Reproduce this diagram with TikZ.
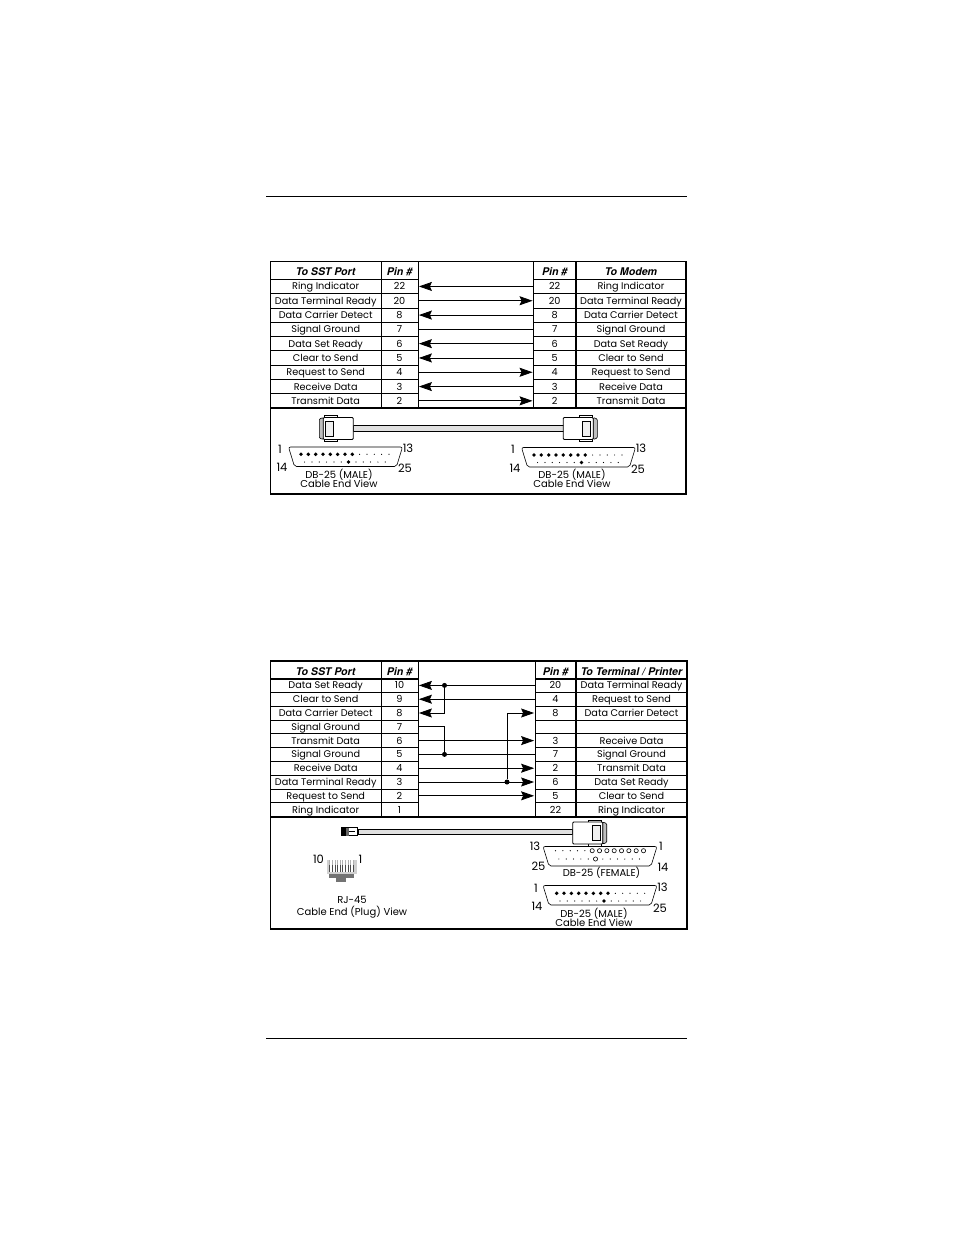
\documentclass[tikz,border=0pt]{standalone}
\usepackage{fontspec}
\setmainfont{Poppins}
\newfontfamily\headfont{TeX Gyre Heros}
\usetikzlibrary{arrows.meta}
\tikzset{
  cell/.style={draw,line width=.8pt,inner sep=0pt,text height=7pt,text depth=0pt,font=\fontsize{9.7}{10}\selectfont},
  headcell/.style={cell,text height=10pt,font=\headfont\fontsize{10.6}{10}\selectfont\bfseries\itshape},
  label/.style={inner sep=0pt,align=center,font=\fontsize{10}{9.5}\selectfont},
  numlabel/.style={inner sep=0pt,font=\fontsize{11.5}{12}\selectfont},
  wire/.style={line width=.8pt},
  sig/.style={wire,-{Stealth[length=13pt,width=9pt,inset=2pt]},shorten >=.5pt},
  dot/.style={circle,fill=black,inner sep=0pt,minimum size=5pt},
  pinfill/.style={circle,fill=black,inner sep=0pt,minimum size=3.8pt},
  pinsmall/.style={circle,fill=black,inner sep=0pt,minimum size=1.2pt},
  pinopen/.style={circle,draw,fill=white,line width=.6pt,inner sep=0pt,minimum size=4.2pt},
  shell/.style={draw,line width=.6pt,rounded corners=2pt,fill=white}
}
% shell of a DB-25, x0 y0 = upper left corner
\newcommand{\dbshell}[2]{
  \draw[shell] (#1,#2) -- (#1+114,#2) -- (#1+108,#2+19.5) -- (#1+6,#2+19.5) -- cycle;
}
% cable plug, #1 = left edge, #2 = top edge, #3 = 1 or -1 for the side of the strip
\newcommand{\plugbody}[3]{
  \begin{scope}[shift={(#1,#2)},xscale=#3]
    \draw[line width=.6pt,fill=black!25,rounded corners=1pt] (0,4) -- (4,2.5) -- (4,24.5) -- (0,23) -- cycle;
    \draw[line width=.6pt,fill=white] (5,0.5) -- (18,0.5) -- (18,3) -- (5,3) -- cycle;
    \draw[line width=.6pt,fill=white] (5,24) -- (18,24) -- (18,26.5) -- (5,26.5) -- cycle;
    \draw[line width=.8pt,fill=white,rounded corners=1pt] (4,2.5) -- (34,2.5) -- (34,24.5) -- (4,24.5) -- cycle;
    \draw[line width=.8pt,fill=black!6] (6.5,6) rectangle (14.5,21);
  \end{scope}
}
\begin{document}
\begin{tikzpicture}[x=1pt,y=-1pt]
  \useasboundingbox (0,0) rectangle (954,1235);
  \draw[line width=1pt] (266,196) -- (687,196);
  \draw[line width=1.5pt] (266,1038.5) -- (687,1038.5);

  % upper table
  \draw[line width=1.3pt] (270.5,261.5) rectangle (686,494);
  \node[headcell,minimum width=110.5pt,minimum height=18pt] (ah1) at (325.7,270.3) {To SST Port};
  \node[headcell,minimum width=37pt,minimum height=18pt] (ah2) at (399.5,270.3) {Pin \#};
  \node[headcell,minimum width=42.5pt,minimum height=18pt] (ah3) at (554.7,270.3) {Pin \#};
  \node[headcell,minimum width=110pt,minimum height=18pt] (ah4) at (631,270.3) {To Modem};
  \foreach \i/\pin/\name in {1/22/Ring Indicator,2/20/Data Terminal Ready,3/8/Data Carrier Detect,
      4/7/Signal Ground,5/6/Data Set Ready,6/5/Clear to Send,7/4/Request to Send,
      8/3/Receive Data,9/2/Transmit Data}{
    \pgfmathsetmacro\rowy{279.3+14.3*(\i-.5)}
    \node[cell,minimum width=110.5pt,minimum height=14.3pt] (an\i) at (325.7,\rowy) {\name};
    \node[cell,minimum width=37pt,minimum height=14.3pt] (ap\i) at (399.5,\rowy) {\pin};
    \node[cell,minimum width=42.5pt,minimum height=14.3pt] (aq\i) at (554.7,\rowy) {\pin};
    \node[cell,minimum width=110pt,minimum height=14.3pt] (am\i) at (631,\rowy) {\name};
  }
  \draw[line width=1.3pt] (270.5,408) -- (686,408);
  \draw[line width=1.3pt] (576,261.5) -- (576,408);
  \foreach \i in {1,3,5,6,8}{
    \draw[sig] (aq\i.west) -- (ap\i.east);
  }
  \foreach \i in {2,7,9}{
    \draw[sig] (ap\i.east) -- (aq\i.west);
  }
  \draw[wire] (ap4.east) -- (aq4.west);

  \draw[line width=.8pt,fill=black!12] (353,425) rectangle (564,431);
  \plugbody{319.3}{415}{1}
  \plugbody{597.3}{415}{-1}

  \dbshell{288.5}{447}
  \foreach \k in {0,...,12}{
    \ifnum\k<8 \node[pinfill] (lt\k) at (301+7.33*\k,454.3) {}; \else \node[pinsmall] (lt\k) at (301+7.33*\k,454.3) {}; \fi
  }
  \foreach \k in {0,...,11}{
    \ifnum\k=6 \node[pinfill] (lb\k) at (304.6+7.33*\k,462) {}; \else \node[pinsmall] (lb\k) at (304.6+7.33*\k,462) {}; \fi
  }
  \node[numlabel] (l1) at (280,449) {1};
  \node[numlabel] (l13) at (408,448) {13};
  \node[numlabel] (l14) at (282,467) {14};
  \node[numlabel] (l25) at (405,468) {25};
  \node[label] (lcap) at (339,478.5) {DB-25 (MALE)\\Cable End View};

  \dbshell{521.5}{447.5}
  \foreach \k in {0,...,12}{
    \ifnum\k<8 \node[pinfill] (rt\k) at (534+7.33*\k,455) {}; \else \node[pinsmall] (rt\k) at (534+7.33*\k,455) {}; \fi
  }
  \foreach \k in {0,...,11}{
    \ifnum\k=6 \node[pinfill] (rb\k) at (537.6+7.33*\k,462.5) {}; \else \node[pinsmall] (rb\k) at (537.6+7.33*\k,462.5) {}; \fi
  }
  \node[numlabel] (r1) at (513,449) {1};
  \node[numlabel] (r13) at (641,448.5) {13};
  \node[numlabel] (r14) at (515,468) {14};
  \node[numlabel] (r25) at (638,469) {25};
  \node[label] (rcap) at (572,478.5) {DB-25 (MALE)\\Cable End View};

  % lower table
  \draw[line width=1.3pt] (270.5,661) rectangle (687,929);
  \node[headcell,minimum width=110.5pt,minimum height=18pt] (bh1) at (325.7,670) {To SST Port};
  \node[headcell,minimum width=37pt,minimum height=18pt] (bh2) at (399.5,670) {Pin \#};
  \node[headcell,minimum width=41pt,minimum height=18pt] (bh3) at (555.5,670) {Pin \#};
  \node[headcell,minimum width=111pt,minimum height=18pt] (bh4) at (631.5,670) {To Terminal / Printer};
  \foreach \i/\pin/\name/\qin/\mate in {1/10/Data Set Ready/20/Data Terminal Ready,
      2/9/Clear to Send/4/Request to Send,3/8/Data Carrier Detect/8/Data Carrier Detect,
      4/7/Signal Ground//,5/6/Transmit Data/3/Receive Data,6/5/Signal Ground/7/Signal Ground,
      7/4/Receive Data/2/Transmit Data,8/3/Data Terminal Ready/6/Data Set Ready,
      9/2/Request to Send/5/Clear to Send,10/1/Ring Indicator/22/Ring Indicator}{
    \pgfmathsetmacro\rowy{678.5+13.8*(\i-.5)}
    \node[cell,minimum width=110.5pt,minimum height=13.8pt] (bn\i) at (325.7,\rowy) {\name};
    \node[cell,minimum width=37pt,minimum height=13.8pt] (bp\i) at (399.5,\rowy) {\pin};
    \node[cell,minimum width=41pt,minimum height=13.8pt] (bq\i) at (555.5,\rowy) {\qin};
    \node[cell,minimum width=111pt,minimum height=13.8pt] (bm\i) at (631.5,\rowy) {\mate};
  }
  \draw[line width=1.3pt] (270.5,817) -- (687,817);
  \draw[line width=1.3pt] (576,661) -- (576,817);

  \coordinate (xa) at (444.5,0);
  \coordinate (xb) at (507,0);
  \node[dot] (j1) at (xa |- bp1.east) {};
  \node[dot] (j2) at (xa |- bp6.east) {};
  \node[dot] (j3) at (xb |- bp8.east) {};
  \coordinate (k3) at (xa |- bp3.east);
  \coordinate (k4) at (xa |- bp4.east);
  \coordinate (k5) at (xb |- bq3.west);
  \draw[sig] (bq1.west) -- (bp1.east);
  \draw[sig] (bq2.west) -- (bp2.east);
  \draw[sig] (k3) -- (bp3.east);
  \draw[wire] (j1) -- (k3);
  \draw[wire] (bp4.east) -- (k4) -- (j2);
  \draw[sig] (bp5.east) -- (bq5.west);
  \draw[wire] (bp6.east) -- (bq6.west);
  \draw[sig] (bp7.east) -- (bq7.west);
  \draw[sig] (bp8.east) -- (bq8.west);
  \draw[sig] (bp9.east) -- (bq9.west);
  \draw[wire] (j3) -- (k5);
  \draw[sig] (k5) -- (bq3.west);

  \draw[line width=.8pt,fill=black!12] (358,829.3) rectangle (572,834);
  \draw[line width=.8pt,fill=white] (341.5,827.5) rectangle (357.5,835.5);
  \fill[black] (341.5,827.5) rectangle (346,835.5);
  \fill[black!60] (346,827.5) rectangle (348.5,835.5);
  \draw[line width=.5pt] (348.5,831.5) -- (355,831.5);
  \plugbody{606.7}{819.5}{-1}

  % RJ-45 plug
  \foreach \k in {0,...,9}{
    \draw[black!30,line width=.8pt] (329.7+2.6*\k,860) -- (329.7+2.6*\k,865);
    \draw[black!70,line width=.7pt] (329.7+2.6*\k,865) -- (329.7+2.6*\k,871.5);
  }
  \fill[black!18] (327,860) rectangle (329,874);
  \fill[black!18] (354,860) rectangle (356.5,874);
  \fill[black!18] (327,871.5) rectangle (356.5,874);
  \fill[black!55] (329,874) rectangle (353.5,877.5);
  \fill[black!55] (336,877.5) rectangle (346,881.7);
  \node[numlabel] (pl10) at (318.5,859) {10};
  \node[numlabel] (pl1) at (360.5,859.5) {1};
  \node[label] (plcap) at (352,907) {RJ-45\\[3pt]Cable End (Plug) View};

  \dbshell{543}{846.5}
  \foreach \k in {0,...,12}{
    \ifnum\k<8 \node[pinopen] (ft\k) at (643.5-7.33*\k,850.7) {}; \else \node[pinsmall] (ft\k) at (643.5-7.33*\k,850.7) {}; \fi
  }
  \foreach \k in {0,...,11}{
    \ifnum\k=6 \node[pinopen] (fb\k) at (639.5-7.33*\k,859) {}; \else \node[pinsmall] (fb\k) at (639.5-7.33*\k,859) {}; \fi
  }
  \node[numlabel] (f13) at (535,846.5) {13};
  \node[numlabel] (f1) at (661,846.5) {1};
  \node[numlabel] (f25) at (538.5,866.5) {25};
  \node[numlabel] (f14) at (663,867.5) {14};
  \node[label] (fcap) at (601.5,872.5) {DB-25 (FEMALE)};

  \dbshell{543}{885.5}
  \foreach \k in {0,...,12}{
    \ifnum\k<8 \node[pinfill] (mt\k) at (556.7+7.33*\k,893.3) {}; \else \node[pinsmall] (mt\k) at (556.7+7.33*\k,893.3) {}; \fi
  }
  \foreach \k in {0,...,11}{
    \ifnum\k=6 \node[pinfill] (mb\k) at (560+7.33*\k,901) {}; \else \node[pinsmall] (mb\k) at (560+7.33*\k,901) {}; \fi
  }
  \node[numlabel] (m1) at (536,888) {1};
  \node[numlabel] (m13) at (662.5,887.5) {13};
  \node[numlabel] (m14) at (537,906.5) {14};
  \node[numlabel] (m25) at (660,908) {25};
  \node[label] (mcap) at (594,917.5) {DB-25 (MALE)\\Cable End View};
\end{tikzpicture}
\end{document}
